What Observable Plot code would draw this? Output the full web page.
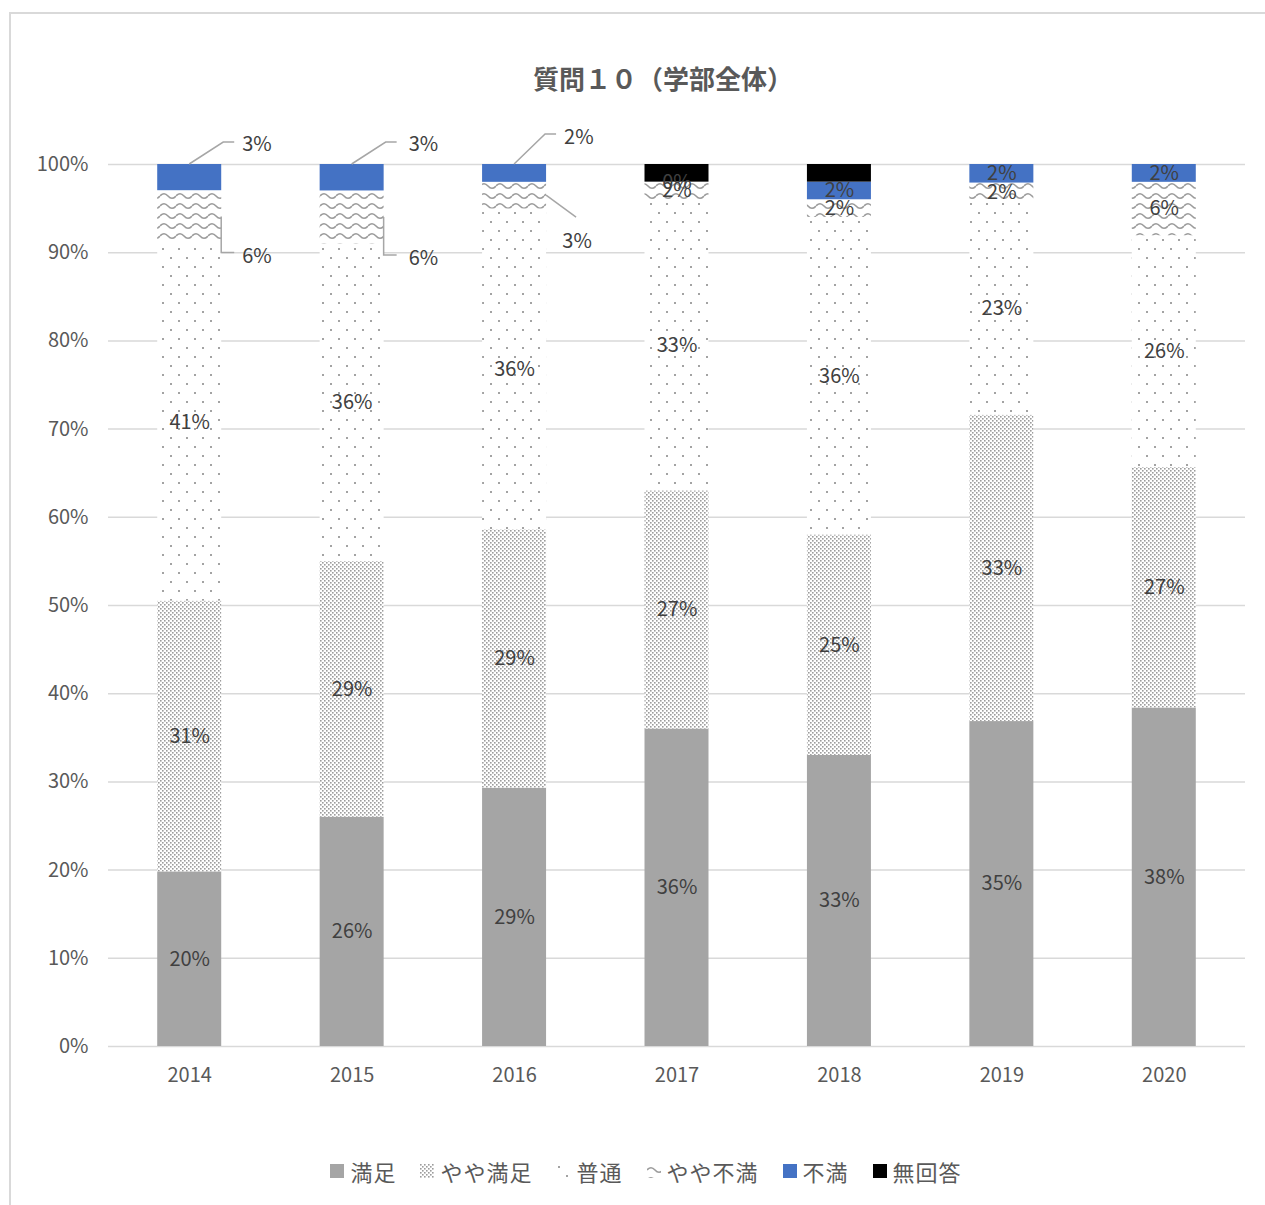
<!DOCTYPE html>
<html>
<head>
<meta charset="utf-8">
<script src="https://cdn.jsdelivr.net/npm/d3@7"></script>
<script src="https://cdn.jsdelivr.net/npm/@observablehq/plot@0.6"></script>
<style>
  body { margin: 0; background: #fff; font-family: "Noto Sans CJK JP", "Noto Sans", sans-serif; }
  #frame { position: absolute; left: 9px; top: 12px; width: 1300px; height: 1250px;
           border-top: 2px solid #d9d9d9; border-left: 2px solid #d9d9d9; box-sizing: border-box; }
  #title { position: absolute; left: 0; top: 60px; width: 1326px; text-align: center;
           font-size: 26px; line-height: 36px; font-weight: bold; color: #595959; }
  #chart { position: absolute; left: 0; top: 120px; }
  #legend { position: absolute; left: 0; top: 1156px; width: 1292px; display: flex; justify-content: center;
            font-size: 22px; line-height: 30px; color: #595959; letter-spacing: 1px; }
  .item { display: flex; align-items: center; margin: 0 12px; }
  .item svg { margin-right: 6px; }
</style>
</head>
<body>
<svg width="0" height="0" style="position:absolute">
  <defs>
    <pattern id="p-yaya" patternUnits="userSpaceOnUse" width="4" height="4">
      <rect width="4" height="4" fill="#fff"/>
      <rect x="0" y="0" width="1.6" height="1.6" fill="#9c9c9c"/>
      <rect x="2" y="2" width="1.6" height="1.6" fill="#9c9c9c"/>
    </pattern>
    <pattern id="p-futsu" patternUnits="userSpaceOnUse" width="16" height="18">
      <rect width="16" height="18" fill="#fff"/>
      <rect x="2" y="2" width="2" height="2" fill="#a3a3a3"/>
      <rect x="10" y="11" width="2" height="2" fill="#a3a3a3"/>
    </pattern>
    <pattern id="p-wave" patternUnits="userSpaceOnUse" width="16" height="10">
      <rect width="16" height="10" fill="#fff"/>
      <path d="M0,6 Q4,1.5 8,6 T16,6" fill="none" stroke="#9c9c9c" stroke-width="1.6"/>
    </pattern>
  </defs>
</svg>
<div id="frame"></div>
<div id="title">質問１０（学部全体）</div>
<div id="chart"></div>
<div id="legend"></div>
<script>
// ---- data ----
const years = ["2014", "2015", "2016", "2017", "2018", "2019", "2020"];
const series = ["満足", "やや満足", "普通", "やや不満", "不満", "無回答"];
const manzoku     = [20, 26, 29, 36, 33, 35, 38];
const yayaManzoku = [31, 29, 29, 27, 25, 33, 27];
const futsu       = [41, 36, 36, 33, 36, 23, 26];
const yayaFuman   = [6, 6, 3, 2, 2, 2, 6];
const fuman       = [3, 3, 2, 0, 2, 2, 2];
const mukaitou    = [0, 0, 0, 2, 2, 0, 0];
const yTicks = [0, 0.1, 0.2, 0.3, 0.4, 0.5, 0.6, 0.7, 0.8, 0.9, 1];
const yTickLabels = ["0%", "10%", "20%", "30%", "40%", "50%", "60%", "70%", "80%", "90%", "100%"];

// ---- styles ----
const fills = ["#a5a5a5", "url(#p-yaya)", "url(#p-futsu)", "url(#p-wave)", "#4472c4", "#000000"];
const labelColor = "#404040";
const font = '"Noto Sans CJK JP", "Noto Sans", sans-serif';

const valuesBySeries = [manzoku, yayaManzoku, futsu, yayaFuman, fuman, mukaitou];
const table = [];
series.forEach((s, i) => years.forEach((y, j) => table.push({year: y, series: s, value: valuesBySeries[i][j]})));

// labels drawn with leader lines (manually placed in the original)
const callouts = [
  {year: "2014", series: "不満", anchor: "top", path: [[0,0],[34,-22],[45,-22]], label: [53,-22], align: "start"},
  {year: "2014", series: "やや不満", anchor: "right", path: [[0,0],[0,36],[13,36]], label: [21,38], align: "start"},
  {year: "2015", series: "不満", anchor: "top", path: [[0,0],[34,-22],[45,-22]], label: [57,-22], align: "start"},
  {year: "2015", series: "やや不満", anchor: "right", path: [[0,0],[0,38],[13,38]], label: [25,40], align: "start"},
  {year: "2016", series: "不満", anchor: "top", path: [[0,0],[31,-30],[42,-30]], label: [50,-29], align: "start"},
  {year: "2016", series: "やや不満", anchor: "right", path: [[0,0],[30,22]], label: [31,44], align: "middle"}
];
const isCallout = d => callouts.some(c => c.year === d.year && c.series === d.series);

const stackOpts = {x: "year", y: "value", z: "series", offset: "normalize", order: series};

const plot = Plot.plot({
  width: 1265,
  height: 980,
  marginLeft: 108,
  marginRight: 20,
  marginTop: 44,
  marginBottom: 54,
  style: {fontFamily: font, fontSize: "20px", color: "#595959", background: "transparent"},
  x: {domain: years, paddingInner: 0.606, paddingOuter: 0.303, round: false, label: null, tickSize: 0, tickPadding: 21},
  y: {domain: [0, 1], ticks: yTicks, tickFormat: (d, i) => yTickLabels[yTicks.indexOf(d)], label: null, tickSize: 0, tickPadding: 20},
  color: {domain: series, range: fills},
  marks: [
    Plot.ruleY(yTicks, {stroke: "#d9d9d9", strokeWidth: 1.5}),
    Plot.barY(table, Plot.stackY({...stackOpts, fill: "series"})),
    Plot.text(table, Plot.stackY({...stackOpts,
      text: d => (d.series === "無回答" || isCallout(d)) ? "" : d.value + "%",
      fill: labelColor, fontSize: 20, fontFamily: font}))
  ]
});
document.getElementById("chart").appendChild(plot);

// leader-line callouts, positioned from the plot's own scales
const xs = plot.scale("x"), ys = plot.scale("y");
const svg = d3.select(plot);
const g = svg.append("g");
callouts.forEach(c => {
  const j = years.indexOf(c.year);
  const total = d3.sum(valuesBySeries, v => v[j]);
  const si = series.indexOf(c.series);
  const lo = d3.sum(valuesBySeries.slice(0, si), v => v[j]) / total;
  const hi = lo + valuesBySeries[si][j] / total;
  const xc = xs.apply(c.year) + xs.bandwidth / 2;
  let ax, ay;
  if (c.anchor === "top") { ax = xc; ay = ys.apply(hi); }
  else { ax = xs.apply(c.year) + xs.bandwidth; ay = ys.apply((lo + hi) / 2); }
  g.append("path")
    .attr("d", d3.line()(c.path.map(([dx, dy]) => [ax + dx, ay + dy])))
    .attr("fill", "none").attr("stroke", "#a6a6a6").attr("stroke-width", 1.5);
  g.append("text")
    .attr("x", ax + c.label[0]).attr("y", ay + c.label[1])
    .attr("text-anchor", c.align).attr("dominant-baseline", "central")
    .attr("fill", labelColor).attr("font-size", 20).attr("font-family", font)
    .text(valuesBySeries[si][j] + "%");
});

// legend
const legend = d3.select("#legend");
series.forEach((s, i) => {
  const item = legend.append("div").attr("class", "item");
  const sw = item.append("svg").attr("width", 14).attr("height", 14);
  sw.append("rect").attr("width", 14).attr("height", 14).attr("fill", fills[i]);
  item.append("span").text(s);
});
</script>
</body>
</html>
